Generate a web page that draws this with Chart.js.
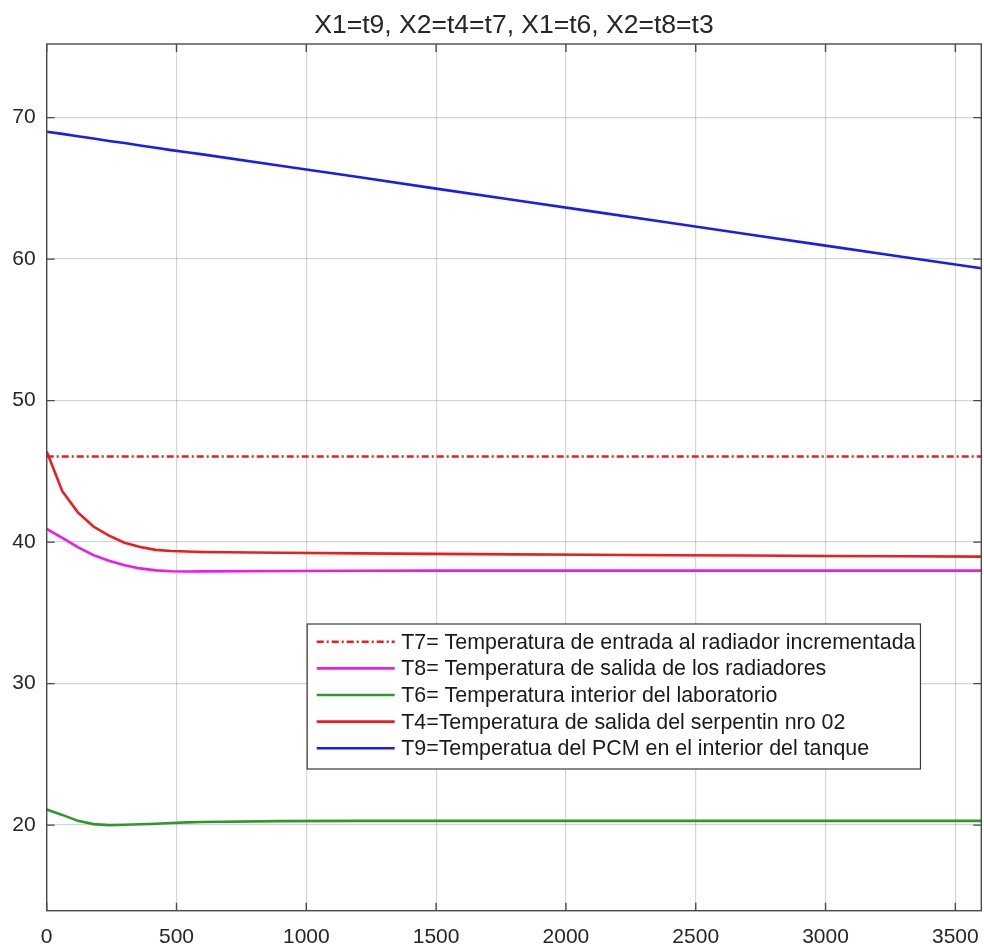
<!DOCTYPE html>
<html>
<head>
<meta charset="utf-8">
<script src="https://cdn.jsdelivr.net/npm/chart.js@4.4.1/dist/chart.umd.min.js"></script>
<style>
  html, body { margin: 0; padding: 0; background: #ffffff; }
  #wrap { width: 984px; height: 946px; }
</style>
</head>
<body>
<div id="wrap"><canvas id="plot" width="984" height="946"></canvas></div>
<script>
// Time samples (s) shared by all series
const seconds = [0, 60, 120, 180, 240, 300, 360, 420, 480, 540, 600, 900, 1200, 1500, 1800, 2100, 2400, 2700, 3000, 3300, 3600];

// Temperatures (°C)
const t7 = [46.05, 46.05, 46.05, 46.05, 46.05, 46.05, 46.05, 46.05, 46.05, 46.05, 46.05, 46.05, 46.05, 46.05, 46.05, 46.05, 46.05, 46.05, 46.05, 46.05, 46.05];
const t8 = [40.93, 40.30, 39.65, 39.08, 38.68, 38.37, 38.14, 38.00, 37.94, 37.92, 37.93, 37.96, 37.97, 37.98, 37.98, 37.98, 37.98, 37.98, 37.98, 37.98, 37.98];
const t6 = [21.10, 20.72, 20.30, 20.07, 20.00, 20.02, 20.06, 20.10, 20.15, 20.19, 20.22, 20.28, 20.30, 20.30, 20.30, 20.30, 20.30, 20.30, 20.30, 20.30, 20.30];
const t4 = [46.40, 43.60, 42.10, 41.10, 40.45, 39.95, 39.65, 39.45, 39.37, 39.33, 39.30, 39.25, 39.20, 39.17, 39.13, 39.10, 39.07, 39.05, 39.02, 39.00, 38.97];
const t9 = [69.00, 68.85, 68.68, 68.52, 68.35, 68.20, 68.03, 67.87, 67.70, 67.55, 67.40, 66.60, 65.80, 64.98, 64.18, 63.37, 62.57, 61.76, 60.95, 60.15, 59.35];

// Series names
const labels = [
  'T7= Temperatura de entrada al radiador incrementada',
  'T8= Temperatura de salida de los radiadores',
  'T6= Temperatura interior del laboratorio',
  'T4=Temperatura de salida del serpentin nro 02',
  'T9=Temperatua del PCM en el interior del tanque'
];

// Axis ticks
const xTicks = [0, 500, 1000, 1500, 2000, 2500, 3000, 3500];
const yTicks = [20, 30, 40, 50, 60, 70];

const title = 'X1=t9, X2=t4=t7, X1=t6, X2=t8=t3';

const FONT = "'Liberation Sans', Arial, Helvetica, sans-serif";
const TEXT = '#262626';

const toPoints = vals => seconds.map((s, i) => ({ x: s, y: vals[i] }));

const seriesStyle = [
  { data: t7, color: '#f01c1c', dash: [7, 3, 2, 3] },
  { data: t8, color: '#f018f0', dash: [] },
  { data: t6, color: '#2a9a2a', dash: [] },
  { data: t4, color: '#f01c1c', dash: [] },
  { data: t9, color: '#1c1cf0', dash: [] }
];

const datasets = seriesStyle.map((s, i) => ({
  label: labels[i],
  data: toPoints(s.data),
  borderColor: s.color,
  backgroundColor: s.color,
  borderWidth: 2.6,
  borderDash: s.dash,
  pointRadius: 0,
  tension: 0,
  fill: false
}));

// Axes box with inward ticks on all four sides
const framePlugin = {
  id: 'frame',
  afterDatasetsDraw(chart) {
    const { ctx, chartArea: a, scales } = chart;
    ctx.save();
    ctx.strokeStyle = '#4a4a4a';
    ctx.lineWidth = 1.4;
    const tl = 8;
    ctx.beginPath();
    scales.x.ticks.forEach(t => {
      const px = scales.x.getPixelForValue(t.value);
      ctx.moveTo(px, a.bottom); ctx.lineTo(px, a.bottom - tl);
      ctx.moveTo(px, a.top); ctx.lineTo(px, a.top + tl);
    });
    scales.y.ticks.forEach(t => {
      const py = scales.y.getPixelForValue(t.value);
      ctx.moveTo(a.left, py); ctx.lineTo(a.left + tl, py);
      ctx.moveTo(a.right, py); ctx.lineTo(a.right - tl, py);
    });
    ctx.stroke();
    ctx.strokeRect(a.left, a.top, a.right - a.left, a.bottom - a.top);
    ctx.restore();
  }
};

// Boxed legend placed inside the plotting area
const boxLegendPlugin = {
  id: 'boxLegend',
  afterDraw(chart, args, opts) {
    const { ctx, chartArea: a } = chart;
    const ds = chart.data.datasets;
    ctx.save();
    ctx.font = `${opts.fontSize}px ${FONT}`;
    const textW = Math.max(...ds.map(d => ctx.measureText(d.label).width));
    const x0 = a.left + opts.offsetX;
    const y0 = a.top + opts.offsetY;
    const w = opts.padLeft + opts.lineLen + opts.gap + textW + opts.padRight;
    const h = opts.padTop + (ds.length - 1) * opts.rowH + opts.padBottom;
    ctx.fillStyle = '#ffffff';
    ctx.fillRect(x0, y0, w, h);
    ctx.strokeStyle = '#3a3a3a';
    ctx.lineWidth = 1.2;
    ctx.strokeRect(x0, y0, w, h);
    ds.forEach((d, i) => {
      const cy = y0 + opts.padTop + i * opts.rowH;
      ctx.strokeStyle = d.borderColor;
      ctx.lineWidth = d.borderWidth;
      ctx.setLineDash(d.borderDash || []);
      ctx.beginPath();
      ctx.moveTo(x0 + opts.padLeft, cy);
      ctx.lineTo(x0 + opts.padLeft + opts.lineLen, cy);
      ctx.stroke();
      ctx.setLineDash([]);
      ctx.fillStyle = '#1a1a1a';
      ctx.textBaseline = 'middle';
      ctx.textAlign = 'left';
      ctx.fillText(d.label, x0 + opts.padLeft + opts.lineLen + opts.gap, cy + 1);
    });
    ctx.restore();
  }
};

const plainTick = v => String(v);

new Chart(document.getElementById('plot'), {
  type: 'line',
  data: { datasets },
  plugins: [framePlugin, boxLegendPlugin],
  options: {
    responsive: false,
    animation: false,
    events: [],
    layout: { padding: { left: 0, right: 2.7, top: 0, bottom: 0 } },
    plugins: {
      legend: { display: false },
      tooltip: { enabled: false },
      title: {
        display: true,
        fullSize: false,
        text: title,
        color: TEXT,
        font: { family: FONT, size: 26.5, weight: 'normal', lineHeight: 1.2 },
        padding: { top: 10, bottom: 2.2 }
      },
      boxLegend: {
        fontSize: 21.4,
        offsetX: 260.5,
        offsetY: 580,
        padTop: 17.7,
        padBottom: 20.7,
        rowH: 26.65,
        padLeft: 9.5,
        lineLen: 78,
        gap: 6.5,
        padRight: 5
      }
    },
    scales: {
      x: {
        type: 'linear',
        min: 0,
        max: 3600,
        afterBuildTicks: s => { s.ticks = xTicks.map(v => ({ value: v })); },
        afterFit: s => { s.height = 35.3; s.paddingLeft = 0; s.paddingRight = 0; },
        grid: { color: 'rgba(0,0,0,0.16)', lineWidth: 1.2, drawTicks: false },
        border: { display: false },
        ticks: { color: TEXT, font: { family: FONT, size: 21 }, padding: 14, maxRotation: 0, callback: plainTick }
      },
      y: {
        type: 'linear',
        min: 13.95,
        max: 75.2,
        afterBuildTicks: s => { s.ticks = yTicks.map(v => ({ value: v })); },
        afterFit: s => { s.width = 46.7; s.paddingTop = 0; s.paddingBottom = 0; },
        grid: { color: 'rgba(0,0,0,0.16)', lineWidth: 1.2, drawTicks: false },
        border: { display: false },
        ticks: { color: TEXT, font: { family: FONT, size: 21 }, padding: 11, callback: plainTick }
      }
    }
  }
});
</script>
</body>
</html>
